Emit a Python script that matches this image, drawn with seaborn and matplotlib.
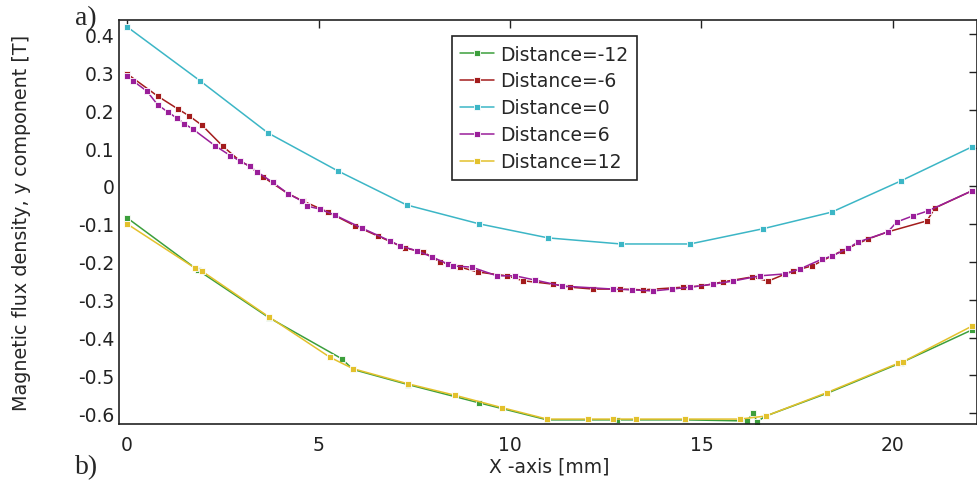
import matplotlib
matplotlib.use('Agg')
from matplotlib import pyplot as plt
from matplotlib.ticker import FuncFormatter
import pandas as pd
import seaborn as sns

# Distance=-12
x_m12 = [0, 1.85, 3.7, 5.61, 5.9, 7.34, 9.19, 10.97, 12.8, 14.57, 16.2, 16.35, 16.45, 16.68, 18.28, 20.2, 22.06]
y_m12 = [-0.084, -0.222, -0.347, -0.456, -0.484, -0.524, -0.572, -0.617, -0.617, -0.617, -0.62, -0.598, -0.622, -0.607, -0.547, -0.467, -0.38]

# Distance=-6
x_m6 = [0, 0.8, 1.33, 1.62, 1.96, 2.5, 2.95, 3.2, 3.55, 4.2, 4.6, 5.25, 5.95, 6.55, 7.26, 7.73, 8.17, 8.7,
        9.16, 9.92, 10.34, 11.12, 11.57, 12.17, 12.87, 13.47, 14.52, 15.0, 15.56, 16.32, 16.74, 17.39, 17.89,
        18.67, 19.35, 19.87, 20.89, 21.1, 22.06]
y_m6 = [0.296, 0.237, 0.203, 0.185, 0.16, 0.105, 0.066, 0.052, 0.024, -0.02, -0.04, -0.069, -0.105, -0.132,
        -0.164, -0.174, -0.2, -0.214, -0.227, -0.237, -0.25, -0.259, -0.267, -0.272, -0.272, -0.274, -0.267,
        -0.264, -0.253, -0.24, -0.251, -0.224, -0.211, -0.171, -0.14, -0.121, -0.092, -0.058, -0.013]

# Distance=0
x_0 = [0, 1.9, 3.68, 5.5, 7.3, 9.2, 11.0, 12.9, 14.7, 16.6, 18.4, 20.2, 22.06]
y_0 = [0.42, 0.278, 0.14, 0.04, -0.05, -0.1, -0.137, -0.153, -0.153, -0.113, -0.069, 0.013, 0.103]

# Distance=6
x_6 = [0, 0.16, 0.52, 0.8, 1.07, 1.3, 1.5, 1.72, 2.3, 2.7, 2.95, 3.2, 3.4, 3.8, 4.2, 4.57, 4.7, 5.04, 5.43,
       6.13, 6.87, 7.13, 7.57, 7.96, 8.38, 8.5, 9.0, 9.66, 10.13, 10.65, 11.36, 12.7, 13.19, 13.73, 14.23,
       14.7, 15.3, 15.82, 16.53, 17.18, 17.57, 18.15, 18.41, 18.83, 19.09, 19.87, 20.1, 20.52, 20.91, 22.06]
y_6 = [0.29, 0.277, 0.25, 0.214, 0.195, 0.179, 0.164, 0.15, 0.106, 0.08, 0.066, 0.052, 0.037, 0.01, -0.02,
       -0.04, -0.053, -0.061, -0.077, -0.111, -0.145, -0.158, -0.171, -0.187, -0.206, -0.211, -0.214,
       -0.237, -0.237, -0.248, -0.264, -0.272, -0.274, -0.277, -0.272, -0.267, -0.259, -0.251, -0.237,
       -0.232, -0.219, -0.193, -0.185, -0.164, -0.148, -0.121, -0.095, -0.079, -0.066, -0.013]

# Distance=12
x_12 = [0, 1.78, 1.96, 3.7, 5.3, 5.9, 7.34, 8.56, 9.8, 10.97, 12.04, 12.7, 13.3, 14.57, 16.0, 16.68, 18.28, 20.13, 20.26, 22.06]
y_12 = [-0.1, -0.217, -0.225, -0.345, -0.452, -0.482, -0.522, -0.552, -0.585, -0.615, -0.615, -0.615, -0.615, -0.615, -0.615, -0.607, -0.545, -0.468, -0.464, -0.37]

labels = ['Distance=-12', 'Distance=-6', 'Distance=0', 'Distance=6', 'Distance=12']
colors = ['#3c9f3c', '#a31c1c', '#3cb6c6', '#9a1e9a', '#e3c12c']

frames = []
for lab, xs, ys in zip(labels, [x_m12, x_m6, x_0, x_6, x_12], [y_m12, y_m6, y_0, y_6, y_12]):
    frames.append(pd.DataFrame({'x': xs, 'y': ys, 'series': lab}))
df = pd.concat(frames, ignore_index=True)

sns.set_style('white')
plt.rcParams['font.family'] = ['DejaVu Sans']
plt.rcParams['axes.unicode_minus'] = False

fig = plt.figure(figsize=(9.78, 4.81), dpi=100)
ax = fig.add_axes([0.1217, 0.1164, 0.877, 0.84])

sns.lineplot(data=df, x='x', y='y', hue='series', hue_order=labels, palette=colors,
             marker='s', markersize=4.5, markeredgewidth=0.6, linewidth=1.1,
             estimator=None, sort=False, ax=ax)

ax.set_xlim(-0.21, 22.19)
ax.set_ylim(-0.628, 0.438)
ax.set_xticks([0, 5, 10, 15, 20])
ax.set_yticks([-0.6, -0.5, -0.4, -0.3, -0.2, -0.1, 0, 0.1, 0.2, 0.3, 0.4])
ax.yaxis.set_major_formatter(FuncFormatter(lambda v, p: '0' if abs(v) < 1e-9 else f'{v:.1f}'))
ax.tick_params(direction='in', length=6, width=1, top=True, right=True, labelsize=13.5, colors='#222222')
ax.tick_params(axis='x', pad=8)
for s in ax.spines.values():
    s.set_color('#222222')
    s.set_linewidth(1.2)

ax.set_xlabel('X -axis [mm]', fontsize=13.5)
ax.set_ylabel('Magnetic flux density, y component [T]', fontsize=13.8)
ax.xaxis.set_label_coords(0.502, -0.08)
ax.yaxis.set_label_coords(-0.103, 0.5)

leg = ax.legend(loc='upper left', bbox_to_anchor=(0.388, 0.96), borderaxespad=0, fontsize=13.5,
                frameon=True, fancybox=False, edgecolor='#222222', framealpha=1, handlelength=1.8,
                borderpad=0.45, labelspacing=0.42, handletextpad=0.35)
leg.get_frame().set_linewidth(1.2)

fig.text(0.077, 0.988, 'a)', fontsize=20, family='Liberation Serif', va='top', ha='left')
fig.text(0.077, 0.002, 'b)', fontsize=20, family='Liberation Serif', va='bottom', ha='left')

fig.savefig('out.png', dpi=100)
